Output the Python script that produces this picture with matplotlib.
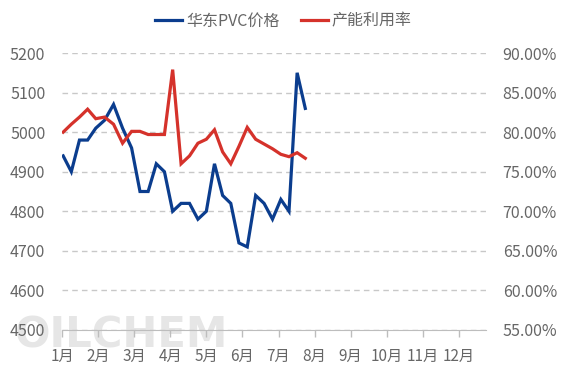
import matplotlib
matplotlib.use("Agg")
import matplotlib.pyplot as plt
import numpy as np
import pandas as pd
from matplotlib.ticker import FuncFormatter

plt.rcParams['font.family'] = ['Noto Sans CJK SC', 'DejaVu Sans']

# ---- data ----
months = ['1月', '2月', '3月', '4月', '5月', '6月', '7月', '8月', '9月', '10月', '11月', '12月']
dates = pd.date_range('2025-01-02', periods=30, freq='7D')
pvc_price = [4940, 4900, 4980, 4980, 5010, 5030, 5070, 5010, 4960, 4850,
             4850, 4920, 4900, 4800, 4820, 4820, 4780, 4800, 4920, 4840,
             4820, 4720, 4710, 4840, 4820, 4780, 4830, 4800, 5150, 5060]
utilization = [80.0, 81.0, 81.9, 82.9, 81.7, 81.9, 81.0, 78.6, 80.1, 80.1,
               79.7, 79.7, 79.7, 87.9, 76.0, 77.0, 78.6, 79.1, 80.3, 77.5,
               76.0, 78.2, 80.6, 79.1, 78.5, 77.9, 77.2, 76.9, 77.4, 76.7]
series_names = ['华东PVC价格', '产能利用率']

# month-position of each date (month index + fraction of month)
xpos = np.array([d.month - 1 + (d.day - 1) / d.days_in_month for d in dates])

blue = '#0B3D8E'
red = '#D5322B'
txt = '#666666'

fig = plt.figure(figsize=(5.67, 3.78), dpi=100)
ax = fig.add_axes([62/567, 1-330/378, (486-62)/567, (330-53)/378])
ax2 = ax.twinx()
ax.patch.set_alpha(0)
ax2.patch.set_alpha(0)

# watermark (behind everything)
fig.text(15/567, 1-336/378, 'OILCHEM', fontsize=30, fontweight='bold',
         family='Liberation Sans Narrow', color='#e6e6e6', va='center', ha='left',
         zorder=-5)

ax.plot(xpos, pvc_price, color=blue, lw=2.3, label=series_names[0], zorder=3, solid_joinstyle='miter')
ax2.plot(xpos, utilization, color=red, lw=2.3, label=series_names[1], zorder=3, solid_joinstyle='miter')

ax.set_xlim(0, 11.75)
ax.set_ylim(4500, 5200)
ax.set_yticks(np.arange(4500, 5201, 100))
ax2.set_ylim(55, 90)
ax2.set_yticks(np.arange(55, 90.1, 5))
ax2.yaxis.set_major_formatter(FuncFormatter(lambda v, p: f'{v:.2f}%'))

ax.set_xticks(np.arange(12))
ax.set_xticklabels(months)

ax.grid(axis='y', color='#c8c8c8', linestyle=(0, (4, 3)), lw=1)
ax.set_axisbelow(True)
for s in ['top', 'left', 'right']:
    ax.spines[s].set_visible(False)
    ax2.spines[s].set_visible(False)
ax.spines['bottom'].set_color('#bdbdbd')
ax2.spines['bottom'].set_visible(False)
ax.tick_params(axis='x', colors='#bdbdbd', length=5, width=1, labelcolor=txt, labelsize=11, pad=8)
ax.tick_params(axis='y', length=0, labelcolor=txt, labelsize=11.5, pad=12)
ax2.tick_params(axis='y', length=0, labelcolor=txt, labelsize=11.5, pad=12)

h1, l1 = ax.get_legend_handles_labels()
h2, l2 = ax2.get_legend_handles_labels()
fig.legend(h1 + h2, l1 + l2, loc='center', bbox_to_anchor=(0.5, 1-21/378), ncol=2,
           frameon=False, fontsize=11.5, handlelength=1.7, handletextpad=0.25,
           columnspacing=1.3, labelcolor=txt)

fig.savefig('out.png', dpi=100)
